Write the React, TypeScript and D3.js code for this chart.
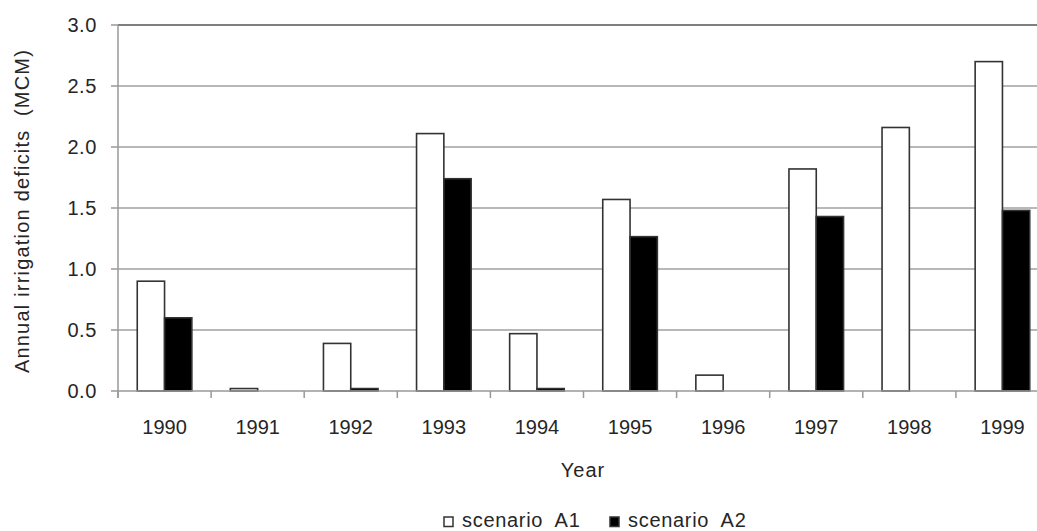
import React from "react";
import * as d3 from "d3";

const years = ["1990", "1991", "1992", "1993", "1994", "1995", "1996", "1997", "1998", "1999"];
const scenarioA1 = [0.9, 0.02, 0.39, 2.11, 0.47, 1.57, 0.13, 1.82, 2.16, 2.7];
const scenarioA2 = [0.6, 0, 0.02, 1.74, 0.02, 1.265, 0, 1.43, 0, 1.48];
const yTicks = [0, 0.5, 1.0, 1.5, 2.0, 2.5, 3.0];
const seriesNames = ["scenario  A1", "scenario  A2"];
const yLabel = "Annual irrigation deficits  (MCM)";
const xLabel = "Year";

const W = 1037;
const H = 531;
const M = { left: 118, top: 25, right: 1049, bottom: 391 };
const FONT = "'Liberation Sans', Arial, sans-serif";
const TXT = "#262626";

export default function App() {
  const x = d3.scaleBand<string>().domain(years).range([M.left, M.right]).paddingInner(0).paddingOuter(0);
  const step = x.bandwidth();
  const barW = 27.3;
  const y = d3.scaleLinear().domain([0, 3]).range([M.bottom, M.top]);
  const series = [
    { name: seriesNames[0], values: scenarioA1, fill: "#ffffff" },
    { name: seriesNames[1], values: scenarioA2, fill: "#000000" },
  ];
  const fs = 20;

  return (
    <svg width={W} height={H} style={{ position: "absolute", left: 0, top: 0, background: "#fff" }}>
      {/* gridlines */}
      {yTicks.filter((t) => t > 0 && t < 3).map((t) => (
        <line key={t} x1={M.left} x2={W} y1={y(t)} y2={y(t)} stroke="#a0a0a0" strokeWidth={1.4} />
      ))}
      {/* top border */}
      <line x1={M.left} x2={W} y1={y(3)} y2={y(3)} stroke="#555" strokeWidth={1.6} />
      {/* left axis */}
      <line x1={M.left} x2={M.left} y1={y(3)} y2={M.bottom + 7} stroke="#999" strokeWidth={1.5} />
      {yTicks.map((t) => (
        <g key={"yt" + t}>
          <line x1={M.left - 7} x2={M.left} y1={y(t)} y2={y(t)} stroke="#999" strokeWidth={1.5} />
          <text x={97} y={y(t)} dy="0.35em" textAnchor="end" fontFamily={FONT} fontSize={fs} fill={TXT} letterSpacing={0.6}>
            {d3.format(".1f")(t)}
          </text>
        </g>
      ))}
      {/* bars */}
      {series.map((s, si) => (
        <g key={s.name}>
          {years.map((yr, i) => {
            const v = s.values[i];
            if (v <= 0) return null;
            const cx = (x(yr) as number) + step / 2;
            const bx = cx - barW + si * barW;
            return (
              <rect key={yr} x={bx} y={y(v)} width={barW} height={y(0) - y(v)} fill={s.fill} stroke="#333" strokeWidth={1.6} />
            );
          })}
        </g>
      ))}
      {/* x axis */}
      <line x1={M.left} x2={W} y1={M.bottom} y2={M.bottom} stroke="#999" strokeWidth={1.5} />
      {years.map((yr, i) => (
        <g key={"xt" + yr}>
          <line x1={(x(yr) as number)} x2={(x(yr) as number)} y1={M.bottom} y2={M.bottom + 7} stroke="#999" strokeWidth={1.5} />
          <text x={(x(yr) as number) + step / 2} y={434} textAnchor="middle" fontFamily={FONT} fontSize={fs} fill={TXT}>
            {yr}
          </text>
        </g>
      ))}
      {/* axis titles */}
      <text x={583} y={477} textAnchor="middle" fontFamily={FONT} fontSize={fs} fill={TXT} letterSpacing={1}>
        {xLabel}
      </text>
      <text
        transform={`translate(29, 211) rotate(-90)`}
        textAnchor="middle"
        fontFamily={FONT}
        fontSize={fs}
        fill={TXT}
        letterSpacing={1.2}
        style={{ whiteSpace: "pre" }}
      >
        {yLabel}
      </text>
      {/* legend */}
      {series.map((s, i) => {
        const lx = 444 + i * 166;
        return (
          <g key={"lg" + i}>
            <rect x={lx} y={517} width={9} height={9.5} fill={s.fill} stroke="#333" strokeWidth={1.5} />
            <text x={lx + 18} y={527} fontFamily={FONT} fontSize={fs} fill={TXT} letterSpacing={0.7} style={{ whiteSpace: "pre" }}>
              {s.name}
            </text>
          </g>
        );
      })}
    </svg>
  );
}
